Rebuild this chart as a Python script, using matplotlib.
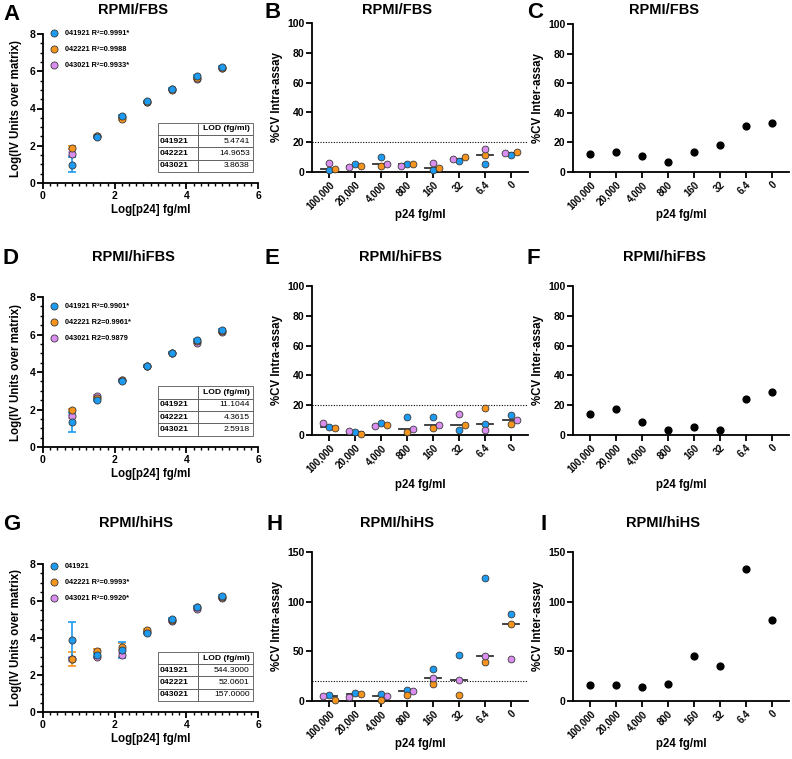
import matplotlib
matplotlib.use("Agg")
import matplotlib.pyplot as plt
import numpy as np
from matplotlib.ticker import MultipleLocator

plt.rcParams['font.family'] = ['Liberation Sans', 'DejaVu Sans']
plt.rcParams['font.weight'] = 'bold'
plt.rcParams['axes.labelweight'] = 'bold'

# ---- data ----
log_p24 = [0.806, 1.505, 2.204, 2.903, 3.602, 4.301, 5.0]
runs = ['041921', '042221', '043021']
conc_labels = ['100,000', '20,000', '4,000', '800', '160', '32', '6.4', '0']

# standard curves, Log(IV units over matrix), low -> high p24
fbs_041921 = [0.98, 2.46, 3.61, 4.38, 5.06, 5.73, 6.25]
fbs_042221 = [1.88, 2.55, 3.45, 4.35, 5.01, 5.65, 6.20]
fbs_043021 = [1.57, 2.50, 3.52, 4.35, 5.03, 5.60, 6.16]
fbs_041921_err = [0.41, 0.05, 0.06, 0.04, 0.04, 0.05, 0.04]
fbs_042221_err = [0.08, 0.05, 0.05, 0.04, 0.04, 0.04, 0.04]
fbs_043021_err = [0.10, 0.05, 0.05, 0.04, 0.04, 0.04, 0.04]

hifbs_041921 = [1.32, 2.52, 3.52, 4.32, 5.04, 5.71, 6.25]
hifbs_042221 = [1.95, 2.60, 3.55, 4.32, 5.04, 5.64, 6.20]
hifbs_043021 = [1.63, 2.71, 3.59, 4.32, 5.04, 5.57, 6.14]
hifbs_041921_err = [0.52, 0.05, 0.05, 0.04, 0.04, 0.05, 0.04]
hifbs_042221_err = [0.08, 0.05, 0.05, 0.04, 0.04, 0.04, 0.04]
hifbs_043021_err = [0.10, 0.05, 0.05, 0.04, 0.04, 0.04, 0.04]

hihs_041921 = [3.88, 3.06, 3.35, 4.28, 5.04, 5.70, 6.28]
hihs_042221 = [2.88, 3.31, 3.54, 4.41, 5.00, 5.65, 6.20]
hihs_043021 = [2.85, 2.97, 3.09, 4.30, 4.91, 5.58, 6.15]
hihs_041921_err = [0.96, 0.06, 0.42, 0.05, 0.05, 0.05, 0.04]
hihs_042221_err = [0.38, 0.08, 0.17, 0.05, 0.04, 0.04, 0.04]
hihs_043021_err = [0.10, 0.06, 0.10, 0.05, 0.04, 0.04, 0.04]

fbs_legend = ['041921 R²=0.9991*', '042221 R²=0.9988', '043021 R²=0.9933*']
hifbs_legend = ['041921 R²=0.9901*', '042221 R2=0.9961*', '043021 R2=0.9879']
hihs_legend = ['041921', '042221 R²=0.9993*', '043021 R²=0.9920*']

fbs_lod = ['5.4741', '14.9653', '3.8638']
hifbs_lod = ['11.1044', '4.3615', '2.5918']
hihs_lod = ['544.3000', '52.0601', '157.0000']

# intra-assay %CV, ordered as conc_labels
fbs_intra_041921 = [1.3, 5.4, 10.3, 5.2, 1.3, 7.4, 5.2, 11.7]
fbs_intra_042221 = [2.0, 4.3, 4.0, 5.2, 2.5, 10.3, 11.4, 13.2]
fbs_intra_043021 = [5.8, 3.6, 5.2, 4.3, 5.8, 8.7, 15.2, 12.8]

hifbs_intra_041921 = [5.1, 1.8, 8.0, 11.8, 11.8, 3.3, 7.6, 13.2]
hifbs_intra_042221 = [4.5, 0.9, 6.7, 2.2, 4.5, 6.5, 18.1, 7.4]
hifbs_intra_043021 = [7.8, 2.5, 5.8, 3.8, 6.9, 13.8, 3.6, 10.3]

hihs_intra_041921 = [5.6, 8.4, 7.4, 11.4, 32.3, 46.1, 123.8, 87.5]
hihs_intra_042221 = [1.0, 7.4, 1.0, 6.1, 17.5, 6.1, 39.4, 77.4]
hihs_intra_043021 = [5.4, 3.7, 4.7, 9.8, 23.2, 21.5, 45.4, 42.4]

# inter-assay %CV
fbs_inter = [11.9, 13.5, 10.8, 6.5, 13.7, 18.0, 31.2, 33.3]
hifbs_inter = [13.8, 17.2, 8.7, 3.3, 5.6, 3.3, 23.9, 28.8]
hihs_inter = [16.1, 16.1, 14.5, 16.8, 45.1, 35.0, 132.9, 81.4]

colors = ['#1c9bf0', '#f7941d', '#d98ef0']
edge = '#3a3a3a'

W, H = 792, 759
fig = plt.figure(figsize=(W / 100, H / 100), dpi=100)


def add_ax(l, t, r, b):
    return fig.add_axes([l / W, 1 - b / H, (r - l) / W, (b - t) / H])


def style(ax):
    for s in ['top', 'right']:
        ax.spines[s].set_visible(False)
    for s in ['left', 'bottom']:
        ax.spines[s].set_linewidth(1.3)
    ax.tick_params(which='major', length=4, width=1.3, labelsize=7.5, pad=1.5)
    ax.tick_params(which='minor', length=2.5, width=1.0)


def place_xlabel(ax, px_below):
    h = ax.get_position().height * H
    ax.xaxis.set_label_coords(0.5, -px_below / h)
    ax.xaxis.label.set_va('center')


def curve_panel(ax, series, errs, labels, lod, leg_top):
    style(ax)
    handles = [None] * 3
    for i in [2, 1, 0]:
        ax.errorbar(log_p24, series[i], yerr=errs[i], fmt='none', ecolor=colors[i],
                    elinewidth=1.2, capsize=2.6, capthick=1.2, zorder=2 + (2 - i))
        handles[i] = ax.scatter(log_p24, series[i], s=26, c=colors[i], edgecolors=edge,
                                linewidths=0.6, zorder=5 + (2 - i))
    ax.set_xlim(0, 6)
    ax.set_ylim(0, 8)
    ax.xaxis.set_major_locator(MultipleLocator(2))
    ax.xaxis.set_minor_locator(MultipleLocator(0.2))
    ax.yaxis.set_major_locator(MultipleLocator(2))
    ax.yaxis.set_minor_locator(MultipleLocator(0.5))
    ax.set_xlabel('Log[p24] fg/ml', fontsize=8.3)
    place_xlabel(ax, 27)
    ax.set_ylabel('Log(IV Units over matrix)', fontsize=8.3)
    ax.yaxis.set_label_coords(-0.098, 0.5)
    ax.legend(handles, labels, loc='upper left', bbox_to_anchor=(0.035, leg_top),
              frameon=False, fontsize=5.3, handletextpad=0.9, labelspacing=1.2,
              borderpad=0, borderaxespad=0, handlelength=1.0, scatterpoints=1)
    cell_text = [['', 'LOD (fg/ml)']] + [[r, v] for r, v in zip(runs, lod)]
    tb = ax.table(cellText=cell_text, colWidths=[0.42, 0.58], bbox=[0.535, 0.075, 0.44, 0.33])
    tb.auto_set_font_size(False)
    tb.set_fontsize(6.1)
    for (r, c), cell in tb.get_celld().items():
        cell.set_edgecolor('#555555')
        cell.set_linewidth(0.6)
        cell.PAD = 0.05
        txt = cell.get_text()
        if c == 0:
            cell._loc = 'left'
            txt.set_ha('left')
            txt.set_fontweight('bold')
        else:
            cell._loc = 'right'
            txt.set_ha('right')
            txt.set_fontweight('bold' if r == 0 else 'normal')


def swarm(vals, ppx, ppy, step=5.6, gap=5.2):
    # greedy horizontal spreading of points that would overlap (pixels)
    placed = []
    offs = []
    for v in vals:
        for k in [0, 1, -1, 2, -2]:
            dx = k * step
            if all((dx - px) ** 2 + ((v - pv) * ppy) ** 2 >= gap ** 2 for px, pv in placed):
                break
        placed.append((dx, v))
        offs.append(dx / ppx)
    return offs


def cat_axes(ax, ymax, ystep, ylabel, label_px):
    style(ax)
    ax.set_xlim(-0.65, 7.65)
    ax.set_ylim(0, ymax)
    ax.yaxis.set_major_locator(MultipleLocator(ystep))
    ax.set_xticks(range(len(conc_labels)))
    ax.set_xticklabels(conc_labels, rotation=45, ha='right', rotation_mode='anchor', fontsize=7)
    ax.set_ylabel(ylabel, fontsize=8.3)
    ax.yaxis.set_label_coords(-0.134, 0.5)
    ax.set_xlabel('p24 fg/ml', fontsize=8.3)
    place_xlabel(ax, label_px)


def intra_panel(ax, series, ymax, ystep, label_px):
    cat_axes(ax, ymax, ystep, '%CV Intra-assay', label_px)
    ppx = 216 / 8.3
    ppy = 149 / ymax
    xs = np.zeros((3, len(conc_labels)))
    for j in range(len(conc_labels)):
        offs = swarm([series[i][j] for i in range(3)], ppx, ppy)
        for i in range(3):
            xs[i, j] = j + offs[i]
        med = np.median([series[i][j] for i in range(3)])
        ax.plot([j - 0.3, j + 0.3], [med, med], color='#333333', lw=1.3, zorder=2)
    for i in range(3):
        ax.scatter(xs[i], series[i], s=24, c=colors[i], edgecolors=edge,
                   linewidths=0.6, zorder=4, clip_on=False)
    ax.axhline(20, color='black', lw=0.8, ls=(0, (1, 1.4)), zorder=1)


def inter_panel(ax, vals, ymax, ystep, label_px):
    cat_axes(ax, ymax, ystep, '%CV Inter-assay', label_px)
    ax.scatter(range(len(conc_labels)), vals, s=24, c='black', zorder=4, clip_on=False)


# row 1
axA = add_ax(43, 34, 258, 183)
curve_panel(axA, [fbs_041921, fbs_042221, fbs_043021],
            [fbs_041921_err, fbs_042221_err, fbs_043021_err], fbs_legend, fbs_lod, 1.03)
axB = add_ax(312, 23, 528, 172)
intra_panel(axB, [fbs_intra_041921, fbs_intra_042221, fbs_intra_043021], 100, 20, 43)
axC = add_ax(573, 24, 789, 172)
inter_panel(axC, fbs_inter, 100, 20, 43)

# row 2
axD = add_ax(43, 297, 258, 447)
curve_panel(axD, [hifbs_041921, hifbs_042221, hifbs_043021],
            [hifbs_041921_err, hifbs_042221_err, hifbs_043021_err], hifbs_legend, hifbs_lod, 0.96)
axE = add_ax(312, 286, 528, 435)
intra_panel(axE, [hifbs_intra_041921, hifbs_intra_042221, hifbs_intra_043021], 100, 20, 50)
axF = add_ax(573, 286, 789, 435)
inter_panel(axF, hifbs_inter, 100, 20, 50)

# row 3
axG = add_ax(43, 564, 258, 712)
curve_panel(axG, [hihs_041921, hihs_042221, hihs_043021],
            [hihs_041921_err, hihs_042221_err, hihs_043021_err], hihs_legend, hihs_lod, 1.01)
axH = add_ax(312, 552, 528, 701)
intra_panel(axH, [hihs_intra_041921, hihs_intra_042221, hihs_intra_043021], 150, 50, 43)
axI = add_ax(573, 552, 789, 701)
inter_panel(axI, hihs_inter, 150, 50, 43)

# titles and panel letters
titles = [('RPMI/FBS', 133, 10), ('RPMI/FBS', 397, 10), ('RPMI/FBS', 664, 10),
          ('RPMI/hiFBS', 133, 257), ('RPMI/hiFBS', 400, 257), ('RPMI/hiFBS', 664, 257),
          ('RPMI/hiHS', 136, 523), ('RPMI/hiHS', 397, 523), ('RPMI/hiHS', 663, 523)]
for t, x, y in titles:
    fig.text(x / W, 1 - y / H, t, ha='center', va='center', fontsize=10.5, fontweight='bold')

letters = [('A', 3, 15), ('B', 265, 13), ('C', 527, 13),
           ('D', 3, 258), ('E', 265, 258), ('F', 527, 258),
           ('G', 3, 524), ('H', 267, 524), ('I', 540, 524)]
for t, x, y in letters:
    fig.text(x / W, 1 - y / H, t, ha='left', va='center', fontsize=16, fontweight='bold')

fig.savefig('out.png', dpi=100)
